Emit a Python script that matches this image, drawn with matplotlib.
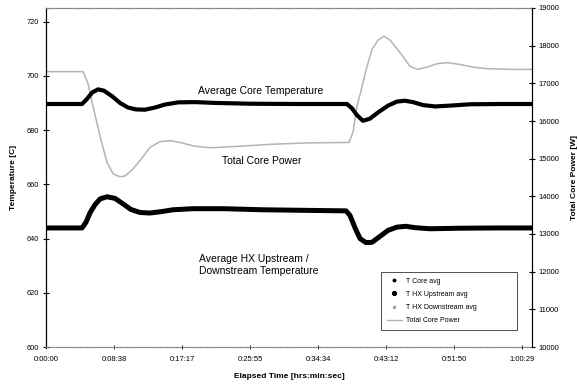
import matplotlib as mpl
import matplotlib.pyplot as plt
from matplotlib.lines import Line2D

mpl.rcParams.update({
    "font.family": ["Liberation Sans", "DejaVu Sans"],
    "font.size": 5,
    "axes.linewidth": 0.8,
})

# elapsed time [s]
t_core = [0, 275, 313, 351, 397, 442, 503, 564, 625, 686, 755, 831, 907, 1006,
          1136, 1289, 1556, 1937, 2295, 2333, 2371, 2417, 2470, 2532, 2608,
          2676, 2737, 2798, 2875, 2966, 3081, 3233, 3462, 3706]
t_core_avg = [689.6, 689.6, 691.5, 693.8, 695.0, 694.5, 692.5, 690.0, 688.3,
              687.6, 687.5, 688.3, 689.4, 690.2, 690.3, 690.0, 689.7, 689.6,
              689.6, 688.0, 685.5, 683.4, 684.2, 686.5, 689.0, 690.5, 690.8,
              690.3, 689.2, 688.7, 689.0, 689.5, 689.6, 689.6]

t_hx = [0, 275, 305, 336, 374, 412, 465, 526, 587, 648, 717, 793, 877, 968,
        1121, 1350, 1655, 1960, 2288, 2318, 2356, 2394, 2440, 2486, 2547,
        2608, 2676, 2745, 2814, 2928, 3157, 3462, 3706]
t_hx_up = [643.9, 643.9, 646.0, 649.5, 652.5, 654.6, 655.4, 654.8, 652.8,
           650.7, 649.6, 649.4, 649.9, 650.6, 651.0, 651.0, 650.6, 650.4,
           650.2, 648.5, 644.0, 640.0, 638.5, 638.6, 640.8, 643.0, 644.2,
           644.5, 644.0, 643.6, 643.8, 643.9, 643.9]
t_hx_down = [643.7, 643.7, 645.8, 649.3, 652.3, 654.4, 655.2, 654.6, 652.6,
             650.5, 649.4, 649.2, 649.7, 650.4, 650.8, 650.8, 650.4, 650.2,
             650.0, 648.3, 643.8, 639.8, 638.3, 638.4, 640.6, 642.8, 644.0,
             644.3, 643.8, 643.4, 643.6, 643.7, 643.7]

t_pow = [0, 282, 320, 359, 412, 465, 511, 564, 602, 656, 717, 793, 869, 945,
         1021, 1136, 1251, 1480, 1708, 2013, 2310, 2341, 2371, 2402, 2440,
         2486, 2532, 2577, 2623, 2669, 2722, 2775, 2836, 2905, 2981, 3058,
         3157, 3272, 3363, 3538, 3706]
power = [17310, 17310, 17000, 16380, 15600, 14900, 14600, 14520, 14540, 14700,
         14950, 15300, 15450, 15480, 15430, 15330, 15290, 15330, 15380, 15420,
         15430, 15700, 16400, 16800, 17350, 17900, 18150, 18250, 18150, 17950,
         17710, 17450, 17370, 17430, 17520, 17550, 17500, 17420, 17390, 17370,
         17370]

xtick_labels = ["0:00:00", "0:08:38", "0:17:17", "0:25:55", "0:34:34",
                "0:43:12", "0:51:50", "1:00:29"]
xtick_step = 518.5

fig = plt.figure(figsize=(5.78, 3.86), dpi=100)
ax = fig.add_axes([46 / 578, 1 - 347 / 386, (532 - 46) / 578, (347 - 8) / 386])
ax2 = ax.twinx()

ax.plot(t_hx, t_hx_down, color="#9a9a9a", lw=1.0, zorder=2)
ax.plot(t_hx, t_hx_up, color="black", lw=3.6, solid_capstyle="round", zorder=3)
ax.plot(t_core, t_core_avg, color="black", lw=3.0, solid_capstyle="round", zorder=3)
ax2.plot(t_pow, power, color="#b4b4b4", lw=1.1, zorder=1)

ax.set_zorder(ax2.get_zorder() + 1)
ax.patch.set_visible(False)

ax.set_xlim(0, 7.147 * xtick_step)
ax.set_ylim(600, 725)
ax2.set_ylim(10000, 19000)
ax.set_xticks([i * xtick_step for i in range(len(xtick_labels))])
ax.set_xticklabels(xtick_labels)
ax.set_yticks(range(600, 721, 20))
ax2.set_yticks(range(10000, 19001, 1000))

for a in (ax, ax2):
    a.spines["top"].set_linestyle((0, (1.5, 1.5)))
    a.spines["top"].set_color("#808080")
    a.spines["bottom"].set_linestyle((0, (1.5, 1.5)))
    a.spines["bottom"].set_color("#808080")
ax.tick_params(axis="y", direction="inout", length=4, width=0.8, pad=3, labelsize=5.3)
ax.tick_params(axis="x", direction="inout", length=3, width=0.6, pad=5, labelsize=5.5)
ax2.tick_params(axis="y", direction="inout", length=4, width=0.8, pad=3, labelsize=5.5)

ax.set_xlabel("Elapsed Time [hrs:min:sec]", fontsize=6, fontweight="bold", labelpad=7)
ax.set_ylabel("Temperature [C]", fontsize=6, fontweight="bold", labelpad=7)
ax2.set_ylabel("Total Core Power [W]", fontsize=6, fontweight="bold", labelpad=8)

ax.text(1640, 694.5, "Average Core Temperature", fontsize=7.5, ha="center", va="center")
ax.text(1645, 668.6, "Total Core Power", fontsize=7.5, ha="center", va="center")
ax.text(1170, 630.3, "Average HX Upstream /\nDownstream Temperature",
        fontsize=7.5, ha="left", va="center", linespacing=1.2)

handles = [
    Line2D([], [], ls="none", marker="o", ms=1.8, color="black"),
    Line2D([], [], ls="none", marker="o", ms=2.8, color="black"),
    Line2D([], [], ls="none", marker="o", ms=1.5, color="#a0a0a0"),
    Line2D([], [], color="#b4b4b4", lw=1.0),
]
labels = ["T Core avg", "T HX Upstream avg", "T HX Downstream avg", "Total Core Power"]
leg = ax.legend(handles, labels, loc="upper left",
                bbox_to_anchor=((381 - 46) / 486, 1 - (330 - 8) / 339,
                                (517 - 381) / 486, (330 - 272) / 339),
                mode="expand", fontsize=5, frameon=True, fancybox=False,
                handlelength=2.2, borderpad=0.8, labelspacing=0.9,
                handletextpad=0.6, borderaxespad=0)
leg.get_frame().set_edgecolor("black")
leg.get_frame().set_linewidth(0.6)

fig.savefig("out.png", dpi=100)
